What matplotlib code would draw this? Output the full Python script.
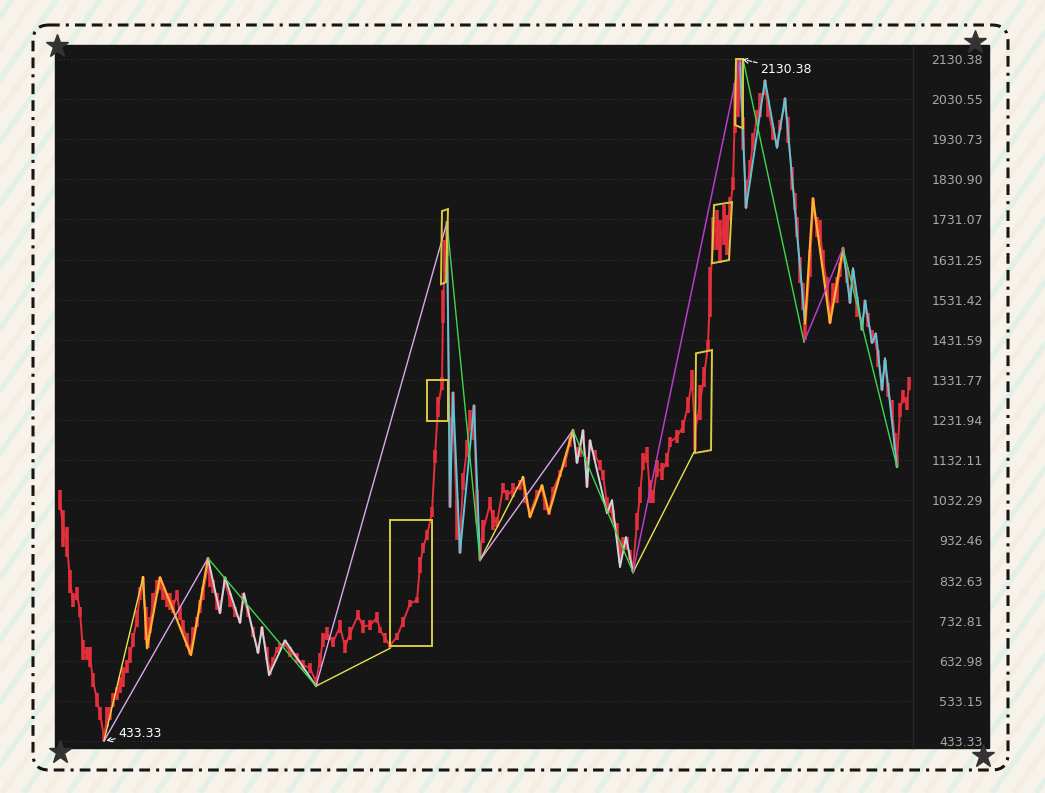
import numpy as np
import matplotlib.pyplot as plt
from matplotlib.patches import FancyBboxPatch, Rectangle, Polygon

# Price series: bar index, high, low
bars = [3, 6, 10, 13, 16, 20, 23, 26, 30, 33, 36, 40, 43, 47, 50, 53, 56, 60, 63, 66,
        70, 73, 76, 80, 83, 86, 89, 91, 93, 96, 100, 103, 106, 110, 113, 116, 120, 123, 126, 130,
        133, 136, 140, 143, 146, 151, 153, 156, 160, 163, 168, 173, 178, 183, 186, 191, 196, 201, 205, 210,
        213, 216, 220, 223, 228, 233, 240, 246, 253, 259, 263, 266, 270, 276, 283, 288, 293, 301, 306, 313,
        320, 323, 328, 333, 340, 346, 353, 360, 363, 366, 370, 375, 378, 381, 385, 386, 388, 390, 393, 396,
        400, 403, 406, 410, 413, 417, 420, 423, 426, 433, 436, 440, 446, 450, 456, 463, 466, 468, 473, 480,
        485, 488, 492, 496, 503, 508, 513, 516, 520, 523, 526, 530, 533, 538, 543, 546, 550, 553, 556, 560,
        563, 566, 570, 573, 576, 580, 583, 586, 590, 593, 596, 600, 605, 610, 613, 620, 626, 631, 635, 638,
        643, 647, 651, 653, 656, 660, 663, 667, 670, 673, 676, 678, 681, 683, 686, 689, 693, 696, 700, 703,
        708, 711, 716, 720, 723, 728, 731, 735, 738, 740, 743, 746, 748, 753, 756, 760, 763, 766, 770, 773,
        776, 780, 783, 786, 790, 793, 796, 800, 805, 808, 811, 815, 818, 821, 825, 828, 831, 835, 838, 840,
        843, 846, 850, 852]
highs = [1057, 1008, 965, 858, 801, 816, 766, 684, 667, 667, 602, 552, 518, 453, 518, 518, 552, 567, 592, 617,
         635, 667, 702, 759, 816, 841, 766, 709, 742, 801, 834, 841, 816, 801, 801, 784, 809, 766, 734, 702,
         667, 717, 742, 784, 816, 888, 858, 834, 801, 784, 841, 801, 766, 742, 801, 766, 717, 667, 717, 667,
         617, 642, 667, 677, 684, 667, 652, 635, 627, 592, 652, 702, 717, 692, 734, 684, 717, 759, 734, 734,
         754, 717, 702, 677, 702, 742, 784, 791, 891, 926, 958, 1015, 1157, 1289, 1339, 1555, 1680, 1727, 1239, 1301,
         1033, 958, 1100, 1182, 1257, 1269, 1057, 921, 983, 1040, 1008, 990, 1075, 1057, 1075, 1082, 1090, 1050, 1008, 1057,
         1070, 1025, 1008, 1065, 1107, 1132, 1189, 1207, 1165, 1174, 1207, 1140, 1182, 1157, 1132, 1107, 1040, 1025, 1008, 975,
         926, 941, 941, 908, 871, 1000, 1065, 1150, 1165, 1082, 1057, 1132, 1125, 1150, 1189, 1207, 1232, 1289, 1356, 1244,
         1319, 1364, 1431, 1612, 1737, 1754, 1729, 1767, 1742, 1786, 1836, 2070, 2127, 2130.38, 1986, 1829, 1879, 1946, 2003, 2045,
         2078, 2028, 1961, 1928, 1978, 2033, 1986, 1861, 1796, 1737, 1637, 1573, 1473, 1655, 1784, 1737, 1729, 1655, 1587, 1505,
         1573, 1587, 1622, 1660, 1612, 1555, 1605, 1538, 1488, 1530, 1498, 1456, 1448, 1406, 1339, 1381, 1324, 1281, 1199, 1145,
         1274, 1306, 1289, 1339]
lows = [1008, 916, 891, 801, 766, 784, 742, 635, 635, 617, 567, 518, 485, 433.33, 468, 485, 518, 535, 552, 567,
        602, 627, 667, 717, 784, 809, 684, 664, 702, 766, 801, 809, 784, 766, 759, 751, 784, 734, 702, 667,
        647, 684, 717, 751, 784, 851, 816, 801, 759, 751, 816, 766, 742, 727, 784, 742, 692, 652, 702, 635,
        597, 627, 652, 659, 667, 642, 627, 610, 602, 570, 617, 667, 684, 667, 702, 652, 684, 734, 702, 709,
        727, 702, 677, 664, 684, 717, 766, 776, 851, 901, 933, 990, 1125, 1239, 1306, 1473, 1600, 1640, 1015, 1207,
        933, 901, 1057, 1140, 1207, 1182, 975, 883, 926, 1008, 958, 965, 1050, 1033, 1040, 1057, 1070, 1025, 990, 1040,
        1053, 1008, 995, 1050, 1090, 1115, 1165, 1189, 1125, 1140, 1182, 1065, 1157, 1132, 1107, 1082, 1008, 1000, 975, 941,
        876, 916, 908, 883, 853, 958, 1025, 1107, 1125, 1025, 1025, 1090, 1082, 1115, 1165, 1174, 1199, 1249, 1306, 1157,
        1232, 1314, 1406, 1488, 1655, 1655, 1622, 1667, 1642, 1729, 1804, 1946, 1986, 2028, 1903, 1759, 1836, 1903, 1971, 1986,
        2040, 1986, 1928, 1911, 1953, 2003, 1921, 1804, 1754, 1687, 1573, 1505, 1431, 1587, 1742, 1687, 1672, 1612, 1548, 1473,
        1530, 1523, 1587, 1630, 1573, 1523, 1573, 1488, 1456, 1498, 1463, 1423, 1423, 1364, 1306, 1356, 1289, 1239, 1157, 1115,
        1239, 1274, 1257, 1306]

# Zigzag legs (bar, price) per drawing colour
thin_yellow = [[(47, 433.33), (86, 841)], [(259, 570), (333, 664)],
               [(423, 883), (466, 1090)], [(576, 853), (638, 1157)]]
orange_legs = [[(86, 841), (90, 664), (103, 841), (134, 647), (151, 888)],
               [(466, 1090), (473, 990), (485, 1070), (492, 1000), (516, 1207)],
               [(748, 1473), (756, 1784), (773, 1473), (786, 1660)]]
violet_legs = [[(47, 433.33), (151, 888)], [(259, 570), (390, 1724)], [(423, 883), (516, 1207)]]
magenta_legs = [[(576, 853), (683, 2130.38)], [(747, 1426), (786, 1660)]]
green_legs = [[(151, 888), (259, 570)], [(390, 1724), (423, 883)], [(516, 1207), (576, 853)],
              [(686, 2130.38), (747, 1426)], [(786, 1660), (840, 1115)]]
white_legs = [[(151, 888), (163, 751), (168, 841), (183, 727), (187, 801), (201, 652), (205, 717),
               (212, 597), (228, 684), (259, 570)],
              [(516, 1207), (520, 1125), (526, 1207), (530, 1065), (533, 1182), (550, 1000), (555, 1033),
               (563, 866), (569, 941), (576, 853)]]
cyan_legs = [[(390, 1724), (393, 1015), (396, 1301), (403, 901), (417, 1269), (423, 883)],
             [(683, 2130.38), (689, 1759), (708, 2078), (720, 1909), (728, 2033), (748, 1473)],
             [(786, 1660), (793, 1523), (796, 1610), (805, 1456), (808, 1530), (815, 1423), (819, 1448),
              (825, 1306), (828, 1386), (840, 1115)]]

# Boxes (corner points, bar/price)
boxes = [[(333, 669), (375, 669), (375, 983), (333, 983)],
         [(370, 1229), (391, 1229), (391, 1331), (370, 1331)],
         [(384, 1570), (389, 1575), (391, 1757), (385, 1752)],
         [(638, 1150), (654, 1157), (655, 1406), (639, 1398)],
         [(655, 1622), (672, 1630), (675, 1774), (657, 1767)],
         [(678, 1966), (686, 1958), (686, 2130.38), (679, 2130.38)]]

tick_values = [433.33, 533.15, 632.98, 732.81, 832.63, 932.46, 1032.29, 1132.11, 1231.94,
               1331.77, 1431.59, 1531.42, 1631.25, 1731.07, 1830.90, 1930.73, 2030.55, 2130.38]

W, H = 1045, 793
fig = plt.figure(figsize=(W / 100, H / 100), dpi=100, facecolor="#f8f3ea")

# ---- decorative background in pixel coordinates ----
bg = fig.add_axes([0, 0, 1, 1], zorder=0)
bg.set_xlim(0, W)
bg.set_ylim(H, 0)
bg.axis("off")
for i, x0 in enumerate(np.arange(-900, W + 100, 22)):
    col = "#e3f0e8" if i % 2 == 0 else "#f3ede2"
    bg.plot([x0, x0 + 560], [H, 0], color=col, lw=4, solid_capstyle="butt", zorder=0)
bg.add_patch(FancyBboxPatch((33, 25), 975, 745, boxstyle="round,pad=0,rounding_size=16",
                            fill=False, ec="#151515", lw=2.2, ls=(0, (3.5, 2, 1, 2, 3.5, 2)), zorder=2))
bg.add_patch(Rectangle((55, 45), 934, 703, color="#161616", zorder=3))
bg.plot([913, 913], [45, 748], color="#262626", lw=1, zorder=4)
bg.plot([57, 975, 60, 983], [46, 42, 752, 756], ls="none", marker="*", ms=17,
        color="#333333", zorder=5)

# ---- chart ----
ax = fig.add_axes([57 / W, (H - 748) / H, (912 - 57) / W, (748 - 45) / H], zorder=1)
ax.patch.set_visible(False)
ax.set_xlim(0, 855)
ax.set_ylim(415.9, 2165.2)
for s in ax.spines.values():
    s.set_visible(False)
ax.set_xticks([])
ax.yaxis.tick_right()
ax.set_yticks(tick_values)
ax.set_yticklabels([f"{v:.2f}" for v in tick_values])
ax.tick_params(axis="y", length=0, pad=51, labelsize=9, labelcolor="#a8a8a8")
for lbl in ax.get_yticklabels():
    lbl.set_horizontalalignment("right")
ax.grid(axis="y", color="#333333", ls=(0, (1, 2)), lw=0.8)

red = "#e3303c"
mids = [(h + l) / 2 for h, l in zip(highs, lows)]
ax.vlines(bars, lows, highs, color=red, lw=2.6, zorder=2)
ax.plot(bars, mids, color=red, lw=1.4, zorder=2)


def draw_legs(legs, color, lw):
    for leg in legs:
        xs, ys = zip(*leg)
        ax.plot(xs, ys, color=color, lw=lw, zorder=4)


draw_legs(white_legs, "#c9d6dc", 1.4)
draw_legs(cyan_legs, "#5cc6d6", 1.4)
draw_legs(orange_legs, "#ffb22e", 1.6)
draw_legs(thin_yellow, "#e8e24a", 1.0)
draw_legs(violet_legs, "#dca6ef", 1.0)
draw_legs(magenta_legs, "#b83ccc", 1.1)
draw_legs(green_legs, "#3ed84a", 1.0)

for corners in boxes:
    ax.add_patch(Polygon(corners, closed=True, fill=False, ec="#d8cc3e", lw=1.4, zorder=5))

arrow = dict(arrowstyle="->", color="white", ls="--", lw=0.8, shrinkA=0, shrinkB=1)
ax.annotate("2130.38", xy=(684, 2130.38), xytext=(703, 2105), color="white", fontsize=9,
            ha="left", va="center", arrowprops=arrow, zorder=6)
ax.annotate("433.33", xy=(48, 433.33), xytext=(61, 453), color="white", fontsize=9,
            ha="left", va="center", arrowprops=arrow, zorder=6)

fig.savefig("out.png", dpi=100, facecolor=fig.get_facecolor())
